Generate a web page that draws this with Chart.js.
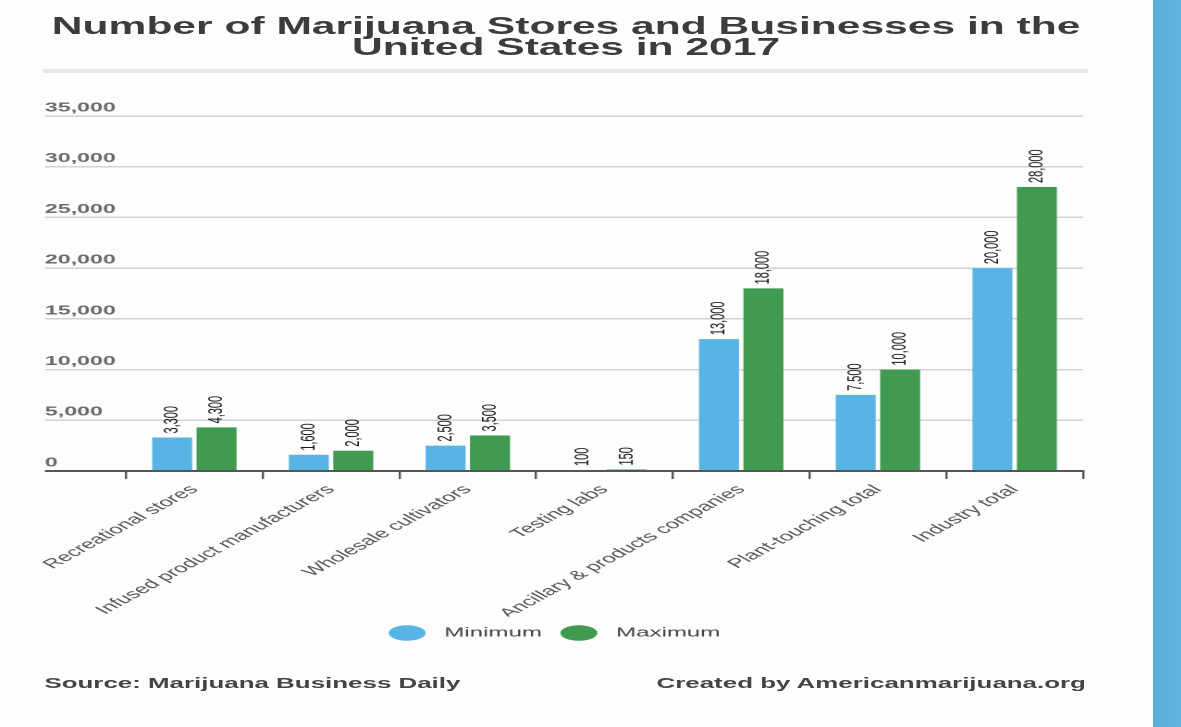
<!DOCTYPE html>
<html>
<head>
<meta charset="utf-8">
<script src="https://cdn.jsdelivr.net/npm/chart.js@4/dist/chart.umd.min.js"></script>
<style>
    html, body { margin: 0; padding: 0; }
    body { width: 1181px; height: 727px; background: #fdfdfd; overflow: hidden; position: relative; font-family: "Liberation Sans", Arial, sans-serif; }
    /* the whole graphic is laid out narrow and then widened */
    #sheet { position: absolute; left: 0; top: 0; width: 623px; height: 727px; transform: scaleX(1.85); transform-origin: 0 0; }
    #title { position: absolute; left: 0; top: 16px; width: 612px; text-align: center; font-weight: bold; font-size: 23px; line-height: 21px; color: #3c3c3c; }
    #rule { position: absolute; left: 23px; top: 69px; width: 565px; height: 4px; background: #e8e8e8; }
    #chartBox { position: absolute; left: 0; top: 80px; width: 600px; height: 580px; }
    .foot { position: absolute; top: 675px; font-weight: bold; font-size: 14px; line-height: 16px; color: #444; white-space: nowrap; }
    #source { left: 24px; }
    #credit { right: 36px; }
    #strip { position: absolute; left: 1153px; top: 0; width: 28px; height: 727px; background: linear-gradient(90deg, #58acd8, #62b4dd); }
</style>
</head>
<body>
<div id="sheet">
    <div id="title">Number of Marijuana Stores and Businesses in the<br>United States in 2017</div>
    <div id="rule"></div>
    <div id="chartBox"><canvas id="storesChart"></canvas></div>
    <div class="foot" id="source">Source: Marijuana Business Daily</div>
    <div class="foot" id="credit">Created by Americanmarijuana.org</div>
</div>
<div id="strip"></div>

<script>
    // Categories and values
    const categories = [
        'Recreational stores',
        'Infused product manufacturers',
        'Wholesale cultivators',
        'Testing labs',
        'Ancillary & products companies',
        'Plant-touching total',
        'Industry total'
    ];
    const minimumValues = [3300, 1600, 2500, 100, 13000, 7500, 20000];
    const maximumValues = [4300, 2000, 3500, 150, 18000, 10000, 28000];
    const seriesNames = ['Minimum', 'Maximum'];
    const yMax = 35000;
    const yStep = 5000;

    const FONT = '"Liberation Sans", Arial, sans-serif';
    const AXIS_W = 54.1;   // y axis box width
    const TICK_W = 43.8;   // grid ticks reach left to the labels

    // value printed sideways above every bar
    const barValueLabels = {
        id: 'barValueLabels',
        afterDatasetsDraw(chart) {
            const ctx = chart.ctx;
            chart.data.datasets.forEach((ds, i) => {
                chart.getDatasetMeta(i).data.forEach((bar, j) => {
                    ctx.save();
                    ctx.translate(bar.x, bar.y - 4);
                    ctx.rotate(-Math.PI / 2);
                    ctx.font = '11px ' + FONT;
                    ctx.fillStyle = '#161616';
                    ctx.textAlign = 'left';
                    ctx.textBaseline = 'middle';
                    ctx.fillText(ds.data[j].toLocaleString('en-US'), 0, 0);
                    ctx.restore();
                });
            });
        }
    };

    new Chart(document.getElementById('storesChart'), {
        type: 'bar',
        data: {
            labels: categories,
            datasets: [
                { label: seriesNames[0], data: minimumValues, backgroundColor: '#58b4e4' },
                { label: seriesNames[1], data: maximumValues, backgroundColor: '#409a50' }
            ]
        },
        options: {
            responsive: true,
            maintainAspectRatio: false,
            devicePixelRatio: 2,
            animation: false,
            categoryPercentage: 0.65,
            barPercentage: 0.9,
            layout: { padding: { left: 14, right: 14.6, top: 36, bottom: 10.5 } },
            scales: {
                x: {
                    border: { color: '#555', width: 2 },
                    grid: { drawOnChartArea: false, color: '#555', lineWidth: 1.2, tickLength: 8 },
                    ticks: {
                        color: '#555',
                        font: { family: FONT, size: 13 },
                        minRotation: 45,
                        maxRotation: 45,
                        autoSkip: false,
                        padding: 3
                    },
                    afterFit(scale) { scale.height = 145.5; }
                },
                y: {
                    min: 0,
                    max: yMax,
                    border: { display: false },
                    grid: {
                        color: c => c.tick && c.tick.value === 0 ? '#555' : '#d2d2d2',
                        lineWidth: c => c.tick && c.tick.value === 0 ? 2 : 1.5,
                        tickLength: TICK_W
                    },
                    ticks: {
                        stepSize: yStep,
                        color: '#6a6a6a',
                        font: { family: FONT, size: 12.5, weight: 'bold' },
                        mirror: true,
                        padding: -TICK_W,
                        labelOffset: -8
                    },
                    afterFit(scale) { scale.width = AXIS_W; }
                }
            },
            plugins: {
                legend: {
                    position: 'bottom',
                    labels: {
                        usePointStyle: true,
                        pointStyle: 'circle',
                        pointStyleWidth: 20,
                        boxHeight: 11,
                        color: '#444',
                        font: { family: FONT, size: 13 },
                        padding: 10,
                        // a little more air between marker and name
                        generateLabels(chart) {
                            return Chart.defaults.plugins.legend.labels.generateLabels(chart)
                                .map(item => Object.assign(item, { text: ' ' + item.text }));
                        }
                    }
                },
                tooltip: { enabled: false }
            }
        },
        plugins: [barValueLabels]
    });
</script>
</body>
</html>
